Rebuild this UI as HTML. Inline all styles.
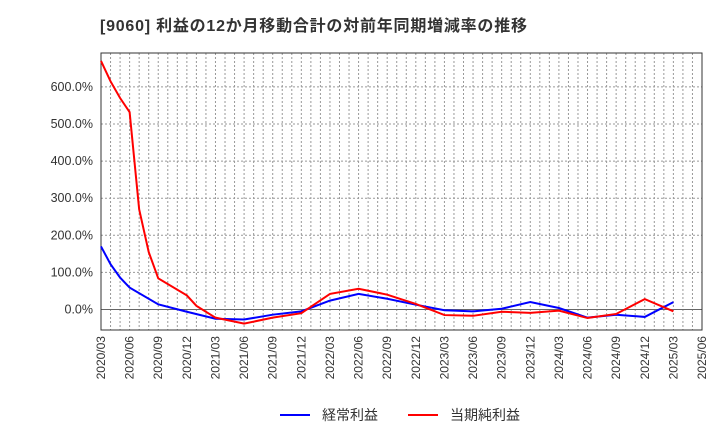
<!DOCTYPE html>
<html><head><meta charset="utf-8"><style>
body{margin:0;background:#fff;font-family:"Liberation Sans","Noto Sans CJK JP",sans-serif;}
</style></head><body>
<svg id="chart" width="720" height="440" xmlns="http://www.w3.org/2000/svg" font-family="Liberation Sans, Noto Sans CJK JP, sans-serif">
<text x="100" y="31" font-size="16" font-weight="bold" fill="#333" textLength="427" lengthAdjust="spacing">[9060]  利益の12か月移動合計の対前年同期増減率の推移</text>
<g id="grid"></g>
<g id="axes"></g>
<g id="series"></g>
<g>
<line x1="280" y1="415" x2="310" y2="415" stroke="#0000ff" stroke-width="2"/>
<text x="322" y="420" font-size="14" fill="#333">経常利益</text>
<line x1="408" y1="415" x2="438" y2="415" stroke="#ff0000" stroke-width="2"/>
<text x="450" y="420" font-size="14" fill="#333">当期純利益</text>
</g>
</svg>
<script>
const blueDates=["2020/03","2020/04","2020/05","2020/06","2020/09","2020/12","2021/03","2021/06","2021/09","2021/12","2022/03","2022/06","2022/09","2022/12","2023/03","2023/06","2023/09","2023/12","2024/03","2024/06","2024/09","2024/12","2025/03"];
const blueValues=[170,122,86,59,14,-6,-25,-27,-14,-5,24,42,29,13,-2,-5,2,20,4,-22,-14,-20,20];
const redDates=["2020/03","2020/04","2020/05","2020/06","2020/07","2020/08","2020/09","2020/12","2021/01","2021/03","2021/06","2021/09","2021/12","2022/03","2022/06","2022/09","2022/12","2023/03","2023/06","2023/09","2023/12","2024/03","2024/06","2024/09","2024/12","2025/03"];
const redValues=[670,615,570,532,270,155,84,38,10,-22,-38,-22,-10,42,56,40,15,-15,-17,-6,-9,-3,-23,-12,28,-5];
const yTicks=[0,100,200,300,400,500,600];
const xTickLabels=["2020/03","2020/06","2020/09","2020/12","2021/03","2021/06","2021/09","2021/12","2022/03","2022/06","2022/09","2022/12","2023/03","2023/06","2023/09","2023/12","2024/03","2024/06","2024/09","2024/12","2025/03","2025/06"];
const L=101,R=702,T=53,B=330;
function mi(d){const [y,m]=d.split('/').map(Number);return (y-2020)*12+(m-3);}
function xs(d){return L+mi(d)*(R-L)/63;}
function ys(v){return 309.5-v*0.371;}
const NS="http://www.w3.org/2000/svg";
function mk(t,a,p){const e=document.createElementNS(NS,t);for(const k in a)e.setAttribute(k,a[k]);p.appendChild(e);return e;}
const grid=document.getElementById('grid'),axes=document.getElementById('axes'),series=document.getElementById('series');
for(let m=1;m<63;m++){const x=L+m*(R-L)/63;
const l=mk('line',{x1:x,y1:T,x2:x,y2:B,stroke:'#999','stroke-dasharray':'2,2','stroke-width':1},grid);

}
yTicks.forEach(v=>{const y=ys(v);
const l=mk('line',{x1:L,y1:y,x2:R,y2:y,stroke:v===0?'#666':'#999','stroke-dasharray':v===0?'none':'2,2','stroke-width':1},grid);


const t=mk('text',{x:93,y:y+4,'text-anchor':'end','font-size':12.5,fill:'#333'},axes);


t.textContent=v.toFixed(1)+'%';});
xTickLabels.forEach(d=>{const x=xs(d);
const t=mk('text',{x:0,y:0,transform:`translate(${x+4},336) rotate(-90)`,'text-anchor':'end','font-size':12,fill:'#333'},axes);


t.textContent=d;});
const fr=mk('rect',{x:L,y:T,width:R-L,height:B-T,fill:'none',stroke:'#333','stroke-width':1},axes);


function line(ds,vs,c,n){const p=mk('polyline',{points:ds.map((d,i)=>xs(d)+','+ys(vs[i])).join(' '),fill:'none',stroke:c,'stroke-width':2},series);

}
line(blueDates,blueValues,'#0000ff','ordinary-profit-line');
line(redDates,redValues,'#ff0000','net-profit-line');
</script>
</body></html>
